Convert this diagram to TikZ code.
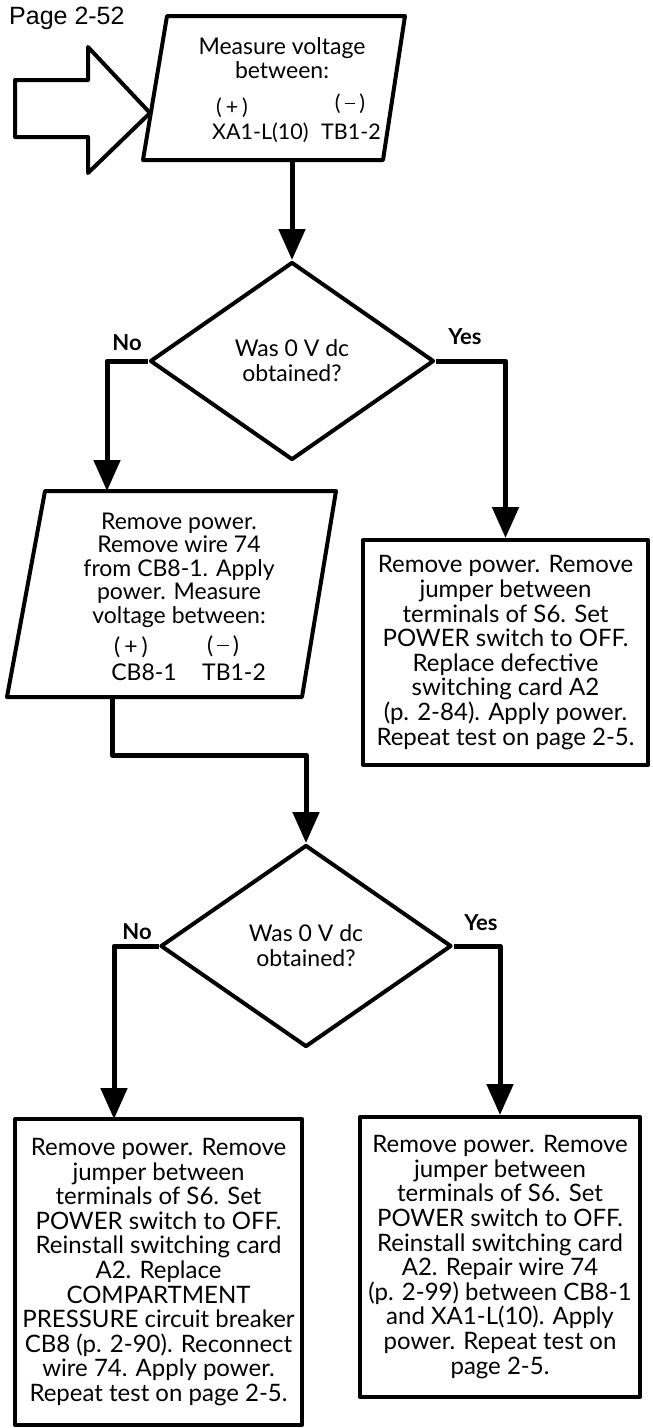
\documentclass[tikz,border=0pt]{standalone}
\usepackage{fontspec}
\setmainfont{Lato}
\newfontfamily\pagefont{Liberation Sans}
\usetikzlibrary{arrows.meta,shapes.geometric}
\newcommand{\mns}{\rule[0.3em]{0.5em}{0.075em}}
\begin{document}
\begin{tikzpicture}[x=1pt,y=-1pt,line join=round,
  boxline/.style={draw,line width=4pt},
  conn/.style={line width=5pt,-{Triangle[width=26pt,length=31pt]}},
  txt/.style={align=center,font=\fontsize{23}{24.4}\selectfont,inner sep=0pt},
  smalltxt/.style={align=center,font=\fontsize{21.5}{22}\selectfont,inner sep=0pt},
  lbl/.style={font=\fontsize{22}{22}\selectfont\bfseries,inner sep=0pt},
  decision/.style={diamond,boxline,align=center,inner sep=0pt,
    font=\fontsize{23}{25}\selectfont},
  actbox/.style={boxline,rectangle,align=center,inner sep=0pt,
    font=\fontsize{24}{24.6}\selectfont}
]
\useasboundingbox (0,0) rectangle (653,1428);

% page label
\node[anchor=west,inner sep=0pt,font=\pagefont\fontsize{25}{25}\selectfont] (page) at (9,18) {Page 2-52};

% hollow entry arrow
\draw[line width=4pt,fill=white] (15,80) -- (88,80) -- (88,47) -- (150,113) -- (88,173) -- (88,137) -- (15,137) -- cycle;

% parallelogram 1
\draw[line width=4pt] (167,16) -- (405,16) -- (383,160) -- (143,160) -- cycle;
\node[txt] (p1) at (282,58) {Measure voltage\\between:};
\node[smalltxt] (p1a) at (232,108) {(\hspace{4pt}+\hspace{4pt})};
\node[smalltxt,anchor=west] (p1b) at (212,133) {XA1-L(10)};
\node[smalltxt] (p1c) at (350,104) {(\hspace{4pt}\mns\hspace{4pt})};
\node[smalltxt] (p1d) at (351,132) {TB1-2};
\coordinate (p1out) at (292,160);

% decision 1
\node[decision,minimum width=284pt,minimum height=198pt] (d1) at (292,361) {Was 0 V dc\\obtained?};
\node[lbl] (no1) at (127,343) {No};
\node[lbl] (yes1) at (465,337) {Yes};

% parallelogram 2
\draw[line width=4pt] (45,491) -- (336,491) -- (302,697) -- (7,697) -- cycle;
\node[txt,font=\fontsize{23}{23.5}\selectfont] (p2) at (179,570) {Remove power.\\Remove wire 74\\from CB8-1. Apply\\power. Measure\\voltage between:};
\node[txt] (p2a) at (131,647) {(\hspace{4pt}+\hspace{4pt})};
\node[txt] (p2b) at (144,672) {CB8-1};
\node[txt] (p2c) at (223,646) {(\hspace{4pt}\mns\hspace{4pt})};
\node[txt] (p2d) at (234,672) {TB1-2};
\coordinate (p2in) at (107,491);
\coordinate (p2out) at (112,697);
\coordinate (bend) at (112,755);

% action box 1
\node[actbox,minimum width=285pt,minimum height=225pt] (b1) at (505.5,652.5)
 {Remove power. Remove\\jumper between\\terminals of S6. Set\\POWER switch to OFF.\\Replace defective\\switching card A2\\(p. 2-84). Apply power.\\Repeat test on page 2-5.};

% decision 2
\node[decision,minimum width=291pt,minimum height=202pt] (d2) at (306,946) {Was 0 V dc\\obtained?};
\node[lbl] (no2) at (137,932) {No};
\node[lbl] (yes2) at (481,923) {Yes};

% action box 2 (left)
\node[actbox,minimum width=287pt,minimum height=306pt] (b2) at (158.5,1272)
 {Remove power. Remove\\jumper between\\terminals of S6. Set\\POWER switch to OFF.\\Reinstall switching card\\A2. Replace\\COMPARTMENT\\PRESSURE circuit breaker\\CB8 (p. 2-90). Reconnect\\wire 74. Apply power.\\Repeat test on page 2-5.};
\coordinate (b2in) at (114,1119);

% action box 3 (right)
\node[actbox,minimum width=280pt,minimum height=280pt] (b3) at (500,1257)
 {Remove power. Remove\\jumper between\\terminals of S6. Set\\POWER switch to OFF.\\Reinstall switching card\\A2. Repair wire 74\\(p. 2-99) between CB8-1\\and XA1-L(10). Apply\\power. Repeat test on\\page 2-5.};

% connectors
\draw[conn] (p1out) -- (d1.north);
\draw[conn] (d1.west) -| (p2in);
\draw[conn] (d1.east) -| (b1.north);
\draw[conn] (p2out) -- (bend) -| (d2.north);
\draw[conn] (d2.west) -| (b2in);
\draw[conn] (d2.east) -| (b3.north);
\end{tikzpicture}
\end{document}
